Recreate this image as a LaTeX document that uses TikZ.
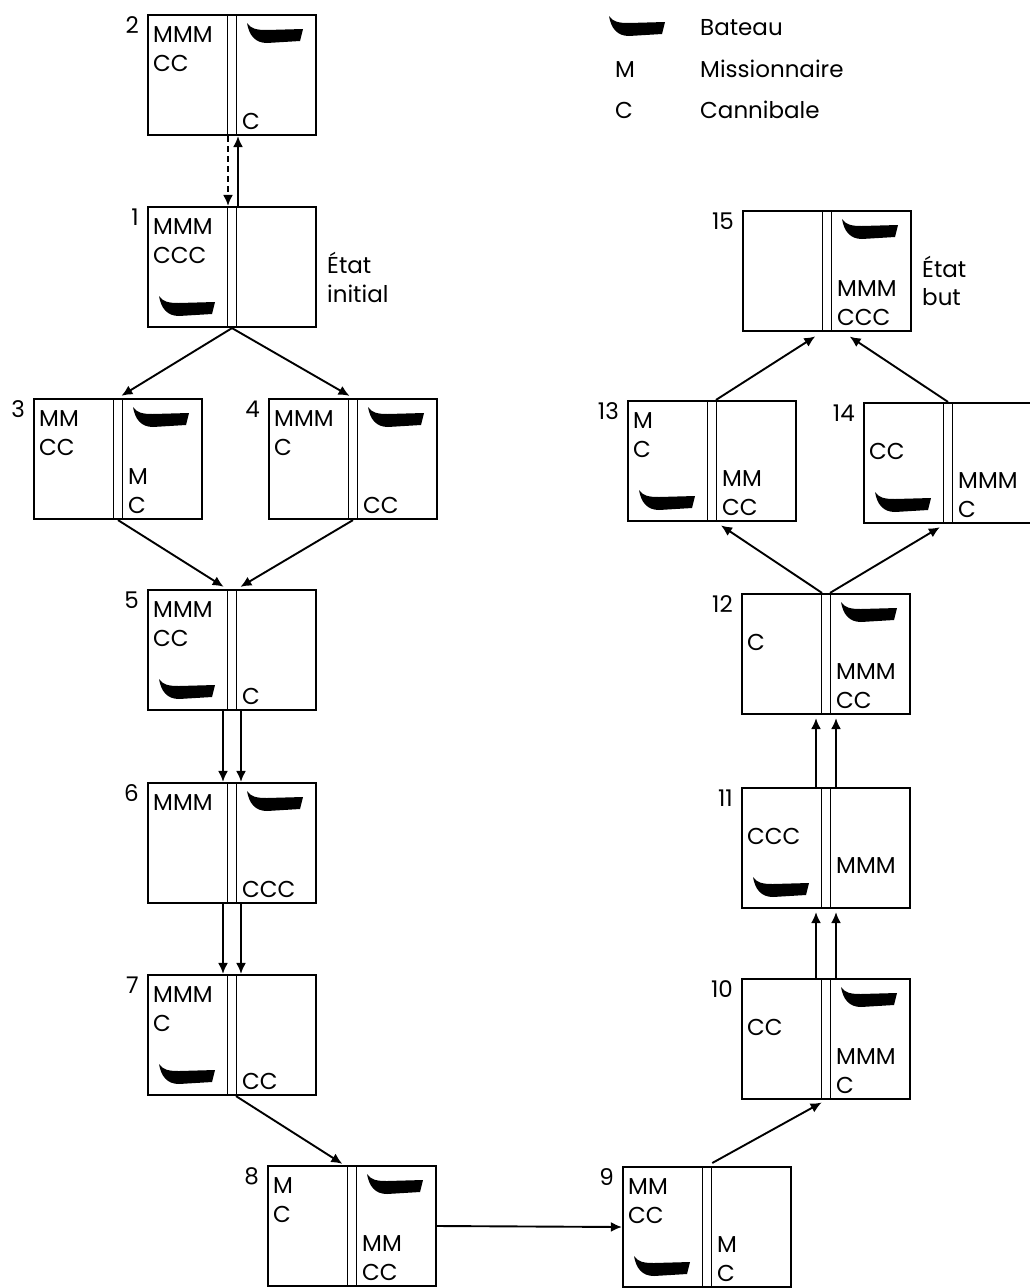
\documentclass[tikz,border=0pt]{standalone}
\usepackage{fontspec}
\setmainfont{Poppins}
\usetikzlibrary{arrows.meta}

\tikzset{
  etat/.style={draw, line width=2.2pt, minimum width=168pt, minimum height=120pt, inner sep=0pt,
    path picture={\draw[line width=1.7pt]
      ([xshift=-4.5pt]path picture bounding box.north) -- ([xshift=-4.5pt]path picture bounding box.south)
      ([xshift=4.5pt]path picture bounding box.north) -- ([xshift=4.5pt]path picture bounding box.south);}},
  txt/.style={anchor=base west, inner sep=0pt, font=\fontsize{23}{27}\selectfont},
  num/.style={anchor=base east, inner sep=0pt, font=\fontsize{23}{27}\selectfont},
  fleche/.style={line width=1.9pt, -{Latex[length=11pt,width=10pt]}},
  bateau/.pic={\fill (0,0) .. controls (4,6) and (10,7) .. (20,7) -- (56,6) -- (53,18)
    -- (20,20) .. controls (8,20) and (2,12) .. (0,0) -- cycle;}
}

\begin{document}
\begin{tikzpicture}[x=1pt, y=-1pt]
\useasboundingbox (0,0) rectangle (1029,1288);

% legende
\pic at (609,16) {bateau};
\node[txt] (lbat) at (700,35) {Bateau};
\node[txt] (lm) at (615,77) {M};
\node[txt] (lmis) at (700,77) {Missionnaire};
\node[txt] (lc) at (615,118) {C};
\node[txt] (lcan) at (700,118) {Cannibale};

% etats
\node[etat] (s1) at (232,267) {};
\node[etat] (s2) at (232,75) {};
\node[etat] (s3) at (118,459) {};
\node[etat] (s4) at (353,459) {};
\node[etat] (s5) at (232,650) {};
\node[etat] (s6) at (232,843) {};
\node[etat] (s7) at (232,1035) {};
\node[etat] (s8) at (352,1226) {};
\node[etat] (s9) at (707,1227) {};
\node[etat] (s10) at (826,1039) {};
\node[etat] (s11) at (826,848) {};
\node[etat] (s12) at (826,654) {};
\node[etat] (s13) at (712,461) {};
\node[etat] (s14) at (948,463) {};
\node[etat] (s15) at (827,271) {};

% numeros
\node[num] (n1) at (139,225) {1};
\node[num] (n2) at (139,33) {2};
\node[num] (n3) at (25,417) {3};
\node[num] (n4) at (260,417) {4};
\node[num] (n5) at (139,608) {5};
\node[num] (n6) at (139,801) {6};
\node[num] (n7) at (139,993) {7};
\node[num] (n8) at (259,1184) {8};
\node[num] (n9) at (614,1185) {9};
\node[num] (n10) at (733,997) {10};
\node[num] (n11) at (733,806) {11};
\node[num] (n12) at (733,612) {12};
\node[num] (n13) at (619,419) {13};
\node[num] (n14) at (855,421) {14};
\node[num] (n15) at (734,229) {15};

% contenu des rives
\node[txt] (t1a) at (153,234) {MMM};
\node[txt] (t1b) at (153,263) {CCC};
\pic at (159,296) {bateau};
\node[txt] (e1a) at (327,273) {État};
\node[txt] (e1b) at (327,302) {initial};

\node[txt] (t2a) at (153,42) {MMM};
\node[txt] (t2b) at (153,71) {CC};
\pic at (247,23) {bateau};
\node[txt] (t2c) at (242,129) {C};

\node[txt] (t3a) at (39,426) {MM};
\node[txt] (t3b) at (39,455) {CC};
\pic at (133,407) {bateau};
\node[txt] (t3c) at (128,484) {M};
\node[txt] (t3d) at (128,513) {C};

\node[txt] (t4a) at (274,426) {MMM};
\node[txt] (t4b) at (274,455) {C};
\pic at (368,407) {bateau};
\node[txt] (t4c) at (363,513) {CC};

\node[txt] (t5a) at (153,617) {MMM};
\node[txt] (t5b) at (153,646) {CC};
\pic at (159,679) {bateau};
\node[txt] (t5c) at (242,704) {C};

\node[txt] (t6a) at (153,810) {MMM};
\pic at (247,791) {bateau};
\node[txt] (t6b) at (242,897) {CCC};

\node[txt] (t7a) at (153,1002) {MMM};
\node[txt] (t7b) at (153,1031) {C};
\pic at (159,1064) {bateau};
\node[txt] (t7c) at (242,1089) {CC};

\node[txt] (t8a) at (273,1193) {M};
\node[txt] (t8b) at (273,1222) {C};
\pic at (367,1174) {bateau};
\node[txt] (t8c) at (362,1251) {MM};
\node[txt] (t8d) at (362,1280) {CC};

\node[txt] (t9a) at (628,1194) {MM};
\node[txt] (t9b) at (628,1223) {CC};
\pic at (634,1256) {bateau};
\node[txt] (t9c) at (717,1252) {M};
\node[txt] (t9d) at (717,1281) {C};

\node[txt] (t10a) at (747,1035) {CC};
\pic at (841,987) {bateau};
\node[txt] (t10b) at (836,1064) {MMM};
\node[txt] (t10c) at (836,1093) {C};

\node[txt] (t11a) at (747,844) {CCC};
\pic at (753,877) {bateau};
\node[txt] (t11b) at (836,873) {MMM};

\node[txt] (t12a) at (747,650) {C};
\pic at (841,602) {bateau};
\node[txt] (t12b) at (836,679) {MMM};
\node[txt] (t12c) at (836,708) {CC};

\node[txt] (t13a) at (633,428) {M};
\node[txt] (t13b) at (633,457) {C};
\pic at (639,490) {bateau};
\node[txt] (t13c) at (722,486) {MM};
\node[txt] (t13d) at (722,515) {CC};

\node[txt] (t14a) at (869,459) {CC};
\pic at (875,492) {bateau};
\node[txt] (t14b) at (958,488) {MMM};
\node[txt] (t14c) at (958,517) {C};

\pic at (842,219) {bateau};
\node[txt] (t15a) at (837,296) {MMM};
\node[txt] (t15b) at (837,325) {CCC};
\node[txt] (e15a) at (922,277) {État};
\node[txt] (e15b) at (922,305) {but};

% transitions
\draw[fleche, dash pattern=on 6pt off 4pt] ([xshift=-4pt]s2.south) -- ([xshift=-4pt]s1.north);
\draw[fleche] ([xshift=6pt]s1.north) -- ([xshift=6pt]s2.south);

\draw[fleche, shorten >=4pt] (s1.south) -- (s3.north);
\draw[fleche, shorten >=4pt] (s1.south) -- (s4.north);
\draw[fleche, shorten >=4pt] (s3.south) -- ([xshift=-5pt]s5.north);
\draw[fleche, shorten >=4pt] (s4.south) -- ([xshift=5pt]s5.north);

\draw[fleche] ([xshift=-9pt]s5.south) -- ([xshift=-9pt]s6.north);
\draw[fleche] ([xshift=9pt]s5.south) -- ([xshift=9pt]s6.north);
\draw[fleche] ([xshift=-9pt]s6.south) -- ([xshift=-9pt]s7.north);
\draw[fleche] ([xshift=9pt]s6.south) -- ([xshift=9pt]s7.north);

\draw[fleche, shorten >=2pt] ([xshift=4pt]s7.south) -- ([xshift=-8pt]s8.north);
\draw[fleche] (s8.east) -- (s9.west);
\draw[fleche, shorten <=6pt, shorten >=5pt] (s9.north) -- (s10.south);

\draw[fleche, shorten >=3pt] ([xshift=-10pt]s10.north) -- ([xshift=-10pt]s11.south);
\draw[fleche, shorten >=3pt] ([xshift=10pt]s10.north) -- ([xshift=10pt]s11.south);
\draw[fleche, shorten >=3pt] ([xshift=-10pt]s11.north) -- ([xshift=-10pt]s12.south);
\draw[fleche, shorten >=3pt] ([xshift=10pt]s11.north) -- ([xshift=10pt]s12.south);

\draw[fleche, shorten >=6pt] ([xshift=-4pt]s12.north) -- ([xshift=4pt]s13.south);
\draw[fleche, shorten >=6pt] ([xshift=4pt]s12.north) -- ([xshift=-3pt]s14.south);
\draw[fleche, shorten >=8pt] ([xshift=4pt]s13.north) -- ([xshift=-5pt]s15.south);
\draw[fleche, shorten >=8pt] (s14.north) -- ([xshift=16pt]s15.south);
\end{tikzpicture}
\end{document}
